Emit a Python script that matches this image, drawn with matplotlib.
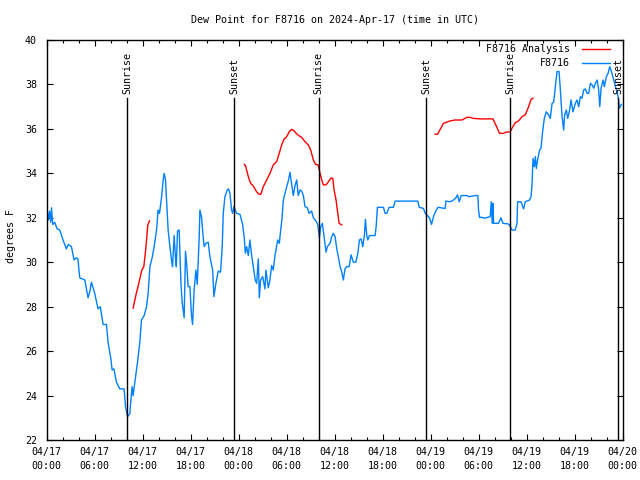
import matplotlib
matplotlib.use("Agg")
import matplotlib.pyplot as plt
import numpy as np
import pandas as pd

plt.rcParams['font.family'] = ['DejaVu Sans Mono']
plt.rcParams['font.size'] = 7.2

# hours since 2024-04-17 00:00 UTC, dew point in F
obs_h = [0.08, 0.2, 0.35, 0.5, 0.6, 0.75, 1.0, 1.3, 1.63, 2.04, 2.46, 2.7, 3.09, 3.42, 3.71, 3.9,
         4.13, 4.76, 5.17, 5.4, 5.59, 6.0, 6.42, 6.7, 7.05, 7.47, 7.67, 8.0, 8.18, 8.4, 8.72, 9.14,
         9.68, 9.85, 10.1, 10.4, 10.5, 10.68, 10.8, 11.1, 11.35, 11.64, 11.85, 12.18, 12.48, 12.68,
         12.9, 13.18, 13.43, 13.73, 13.93, 14.1, 14.35, 14.56, 14.68, 14.85, 14.98, 15.18, 15.4,
         15.6, 15.73, 15.93, 16.1, 16.2, 16.35, 16.56, 16.77, 16.93, 17.18, 17.35, 17.5, 17.68,
         17.9, 18.1, 18.23, 18.43, 18.65, 18.82, 19.06, 19.15, 19.36, 19.57, 19.69, 19.9, 20.19,
         20.4, 20.74, 20.9, 21.15, 21.44, 21.73, 21.94, 22.07, 22.28, 22.57, 22.74, 22.9, 23.11,
         23.24, 23.4, 23.57, 23.74, 24.16, 24.49, 24.7, 24.82, 24.99, 25.2, 25.4, 25.62, 25.82,
         26.07, 26.24, 26.45, 26.58, 26.74, 27.0, 27.28, 27.4, 27.7, 27.9, 28.12, 28.32, 28.54,
         28.75, 28.87, 29.08, 29.25, 29.41, 29.58, 29.79, 30.0, 30.2, 30.41, 30.62, 30.83, 31.04,
         31.25, 31.45, 31.66, 31.87, 32.08, 32.29, 32.58, 32.79, 33.12, 33.33, 33.67, 33.88, 34.08,
         34.25, 34.46, 34.67, 34.92, 35.08, 35.42, 35.63, 35.83, 36.05, 36.26, 36.46, 36.67, 36.88,
         37.08, 37.3, 37.51, 37.8, 38.05, 38.34, 38.64, 38.89, 39.09, 39.3, 39.51, 39.71, 39.84,
         40.01, 40.14, 40.34, 41.05, 41.18, 41.34, 42.09, 42.3, 42.52, 42.8, 43.34, 43.55, 46.4,
         46.56, 47.1, 47.31, 47.6, 47.85, 48.1, 48.35, 48.56, 48.9, 49.81, 49.9, 50.44, 50.85,
         51.15, 51.35, 51.56, 51.81, 52.53, 52.73, 53.57, 53.9, 53.98, 54.1, 54.4, 54.73, 55.44,
         55.57, 55.69, 55.78, 55.86, 56.48, 56.78, 57.03, 57.73, 57.95, 58.16, 58.57, 58.79, 58.86,
         59.29, 59.61, 59.82, 60.36, 60.54, 60.66, 60.79, 60.95, 61.08, 61.2, 61.36, 61.61, 61.79,
         61.99, 62.2, 62.45, 62.74, 62.95, 63.17, 63.37, 63.58, 63.79, 64.04, 64.21, 64.42, 64.62,
         64.74, 64.96, 65.12, 65.37, 65.54, 65.79, 66.08, 66.3, 66.5, 66.71, 66.92, 67.12, 67.33,
         67.55, 67.75, 67.96, 68.17, 68.37, 68.59, 68.8, 69.0, 69.13, 69.3, 69.55, 69.71, 69.96,
         70.17, 70.38, 70.59, 70.88, 71.09, 71.3, 71.46, 71.59, 71.84]
obs_v = [32.27, 31.9, 32.3, 31.8, 32.45, 31.7, 31.8, 31.5, 31.45, 31.0, 30.6, 30.8, 30.7, 30.1, 30.2, 30.15,
         29.3, 29.2, 28.4, 28.7, 29.1, 28.6, 27.9, 28.0, 27.2, 27.2, 26.4, 25.7, 25.15, 25.2, 24.6, 24.3,
         24.3, 23.5, 23.05, 23.2, 23.7, 24.4, 24.0, 24.8, 25.5, 26.4, 27.4, 27.6, 28.0, 28.6,
         29.8, 30.2, 30.7, 31.45, 32.35, 32.2, 32.9, 33.7, 34.0, 33.7, 32.8, 31.45, 30.7,
         30.1, 29.8, 31.2, 30.2, 29.8, 31.4, 31.45, 29.1, 28.2, 27.5, 30.5, 29.9, 28.9,
         28.9, 27.6, 27.2, 28.75, 29.65, 29.0, 31.1, 32.35, 32.0, 31.1, 30.7, 30.85, 30.9,
         30.25, 29.65, 28.45, 29.05, 29.6, 29.55, 30.7, 32.2, 32.95, 33.25, 33.3, 33.1, 32.35,
         32.2, 32.5, 32.35, 32.2, 32.15, 31.7, 31.1, 30.4, 30.7, 30.3, 31.0, 30.3, 29.8,
         29.2, 29.05, 30.15, 28.4, 29.2, 29.35, 28.8, 29.65, 28.85, 29.2, 29.85, 29.65, 30.3,
         30.75, 31.0, 30.85, 31.45, 31.95, 32.8, 33.1, 33.4, 33.65, 34.05, 33.5, 33.0, 33.45,
         33.7, 33.0, 33.25, 33.2, 33.0, 32.5, 32.45, 32.2, 32.3, 32.0, 31.85, 31.7, 31.1,
         31.6, 31.75, 31.15, 30.45, 30.7, 30.85, 31.15, 31.3, 31.15, 30.6, 30.25, 29.8, 29.57,
         29.2, 29.72, 29.8, 29.8, 30.33, 30.0, 30.0, 30.4, 31.0, 31.05, 30.7, 31.2, 31.93,
         31.2, 31.0, 31.2, 31.2, 31.6, 32.47, 32.47, 32.2, 32.2, 32.47, 32.47, 32.75, 32.75,
         32.47, 32.42, 32.2, 32.1, 32.0, 31.7, 32.05, 32.25, 32.47, 32.42, 32.75, 32.72, 32.8,
         32.9, 33.03, 32.72, 33.0, 33.0, 32.95, 33.0, 33.0, 32.35, 32.02, 32.02, 31.98, 32.05,
         32.72, 31.75, 32.65, 31.75, 31.75, 32.0, 31.75, 31.72, 31.6, 31.45, 31.45, 31.75, 32.72,
         32.72, 32.4, 32.72, 32.8, 32.95, 33.47, 34.67, 34.3, 34.75, 34.22, 34.6, 35.05, 35.13,
         35.88, 36.47, 36.77, 36.63, 36.47, 37.15, 37.2, 37.9, 38.58, 38.58, 37.75, 36.55, 35.95,
         36.63, 36.85, 36.47, 36.85, 37.3, 36.77, 37.15, 37.3, 37.0, 37.45, 37.38, 37.75, 37.8,
         37.6, 37.6, 38.05, 37.98, 37.83, 38.05, 38.2, 37.75, 37.0, 37.83, 38.2, 37.9, 38.35,
         38.5, 38.8, 38.58, 38.2, 37.9, 37.68, 37.38, 36.93, 37.1]

# analysis, nan = gap
ana_h = [10.8, 11.14, 11.51, 11.89, 12.14, 12.39, 12.64, 12.85, 12.9,
         24.7, 24.85, 25.2, 25.49, 25.82, 26.24, 26.53, 26.78, 27.07, 27.5, 27.91, 28.32, 28.75,
         29.07, 29.37, 29.66, 30.0, 30.33, 30.62, 30.91, 31.25, 31.58, 31.87, 32.29, 32.7, 33.0,
         33.33, 33.63, 33.92, 34.17, 34.38, 34.58, 34.92, 35.21, 35.51, 35.76, 35.92, 36.17,
         36.33, 36.55, 36.88, 36.9,
         48.56, 48.85, 49.27, 49.6, 50.44, 51.06, 51.9, 52.53, 52.94, 53.36, 54.19, 55.78, 56.2,
         56.6, 57.1, 57.45, 57.95, 58.16, 58.57, 58.99, 59.41, 59.82, 60.24, 60.54, 60.79]
ana_v = [27.93, 28.5, 29.05, 29.65, 29.8, 30.63, 31.68, 31.86, np.nan,
         34.4, 34.35, 33.85, 33.55, 33.43, 33.17, 33.06, 33.06, 33.4, 33.7, 34.0, 34.38, 34.53,
         34.9, 35.28, 35.53, 35.65, 35.88, 35.98, 35.92, 35.77, 35.68, 35.62, 35.42, 35.28, 35.05,
         34.6, 34.4, 34.38, 34.0, 33.7, 33.48, 33.48, 33.62, 33.78, 33.78, 33.25, 32.8,
         32.35, 31.75, 31.68, np.nan,
         35.76, 35.76, 36.03, 36.25, 36.36, 36.4, 36.4, 36.52, 36.52, 36.47, 36.45, 36.45, 36.13,
         35.8, 35.8, 35.86, 35.86, 36.03, 36.28, 36.36, 36.55, 36.63, 37.0, 37.33, 37.38]

sun_h = [10.03, 23.42, 33.98, 47.43, 57.95, 71.45]
sun_lbl = ["Sunrise", "Sunset", "Sunrise", "Sunset", "Sunrise", "Sunset"]

start = pd.Timestamp("2024-04-17 00:00")
obs_t = start + pd.to_timedelta(obs_h, unit="h")
ana_t = start + pd.to_timedelta(ana_h, unit="h")
sun_t = start + pd.to_timedelta(sun_h, unit="h")
tick_t = pd.date_range(start, periods=13, freq="6h")
tick_lbl = [t.strftime("%m/%d\n%H:%M") for t in tick_t]
minor_t = pd.date_range(start, periods=37, freq="2h")

fig = plt.figure(figsize=(6.4, 4.8), dpi=100)
ax = fig.add_axes([46.7/640, 40/480, 576/640, 400/480])

ax.plot(obs_t, obs_v, color="#0080ff", lw=1.0)
ax.plot(ana_t, ana_v, color="#ff0000", lw=1.0)

for t, s in zip(sun_t, sun_lbl):
    ax.axvline(t, ymin=0, ymax=0.855, color="black", lw=1.0)
    ax.text(t, 0.866, s, rotation=90, ha="center", va="bottom",
            transform=ax.get_xaxis_transform())

ax.set_xlim(start, start + pd.Timedelta(hours=72))
ax.set_ylim(22, 40)
ax.set_xticks(tick_t, tick_lbl, linespacing=1.55)
ax.set_xticks(minor_t, minor=True)
ax.set_yticks(np.arange(22, 41, 2))
ax.tick_params(which="both", direction="in", top=True, right=True)
ax.tick_params(which="major", length=4.0, width=0.8)
ax.tick_params(which="minor", length=2.2, width=0.8)
ax.tick_params(axis="x", pad=5)
ax.tick_params(axis="y", pad=7)
for sp in ax.spines.values():
    sp.set_linewidth(1.0)

ax.set_ylabel("degrees F")
ax.yaxis.set_label_coords(-0.054, 0.51)

# legend drawn gnuplot-style: text on the left, sample line on the right
ax.text(0.9085, 0.9775, "F8716 Analysis", ha="right", va="center", transform=ax.transAxes)
ax.plot([0.9293, 0.9779], [0.9775, 0.9775], color="#ff0000", lw=1.0, transform=ax.transAxes)
ax.text(0.9085, 0.9425, "F8716", ha="right", va="center", transform=ax.transAxes)
ax.plot([0.9293, 0.9779], [0.9425, 0.9425], color="#0080ff", lw=1.0, transform=ax.transAxes)

fig.text((46.7 + 622.7) / 2 / 640, 1 - 20 / 480, "Dew Point for F8716 on 2024-Apr-17 (time in UTC)",
         ha="center", va="center")

fig.savefig("out.png", dpi=100)
